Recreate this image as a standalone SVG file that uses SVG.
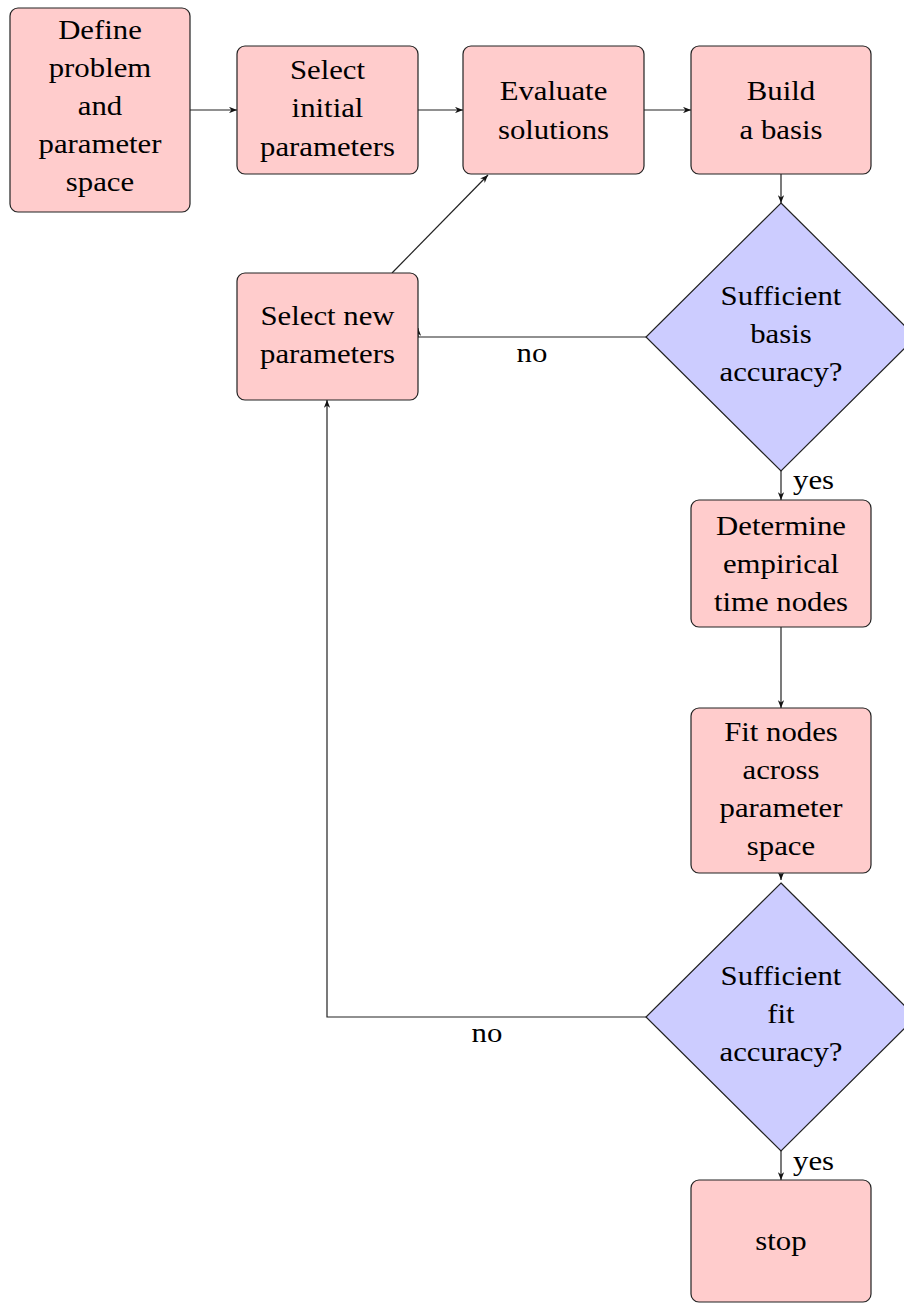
<svg xmlns="http://www.w3.org/2000/svg" width="904" height="1304" viewBox="0 0 904 1304">
<style>
.box{fill:#ffcccc;stroke:#222;stroke-width:1.2}
.dia{fill:#ccccff;stroke:#222;stroke-width:1.2}
text{font-family:'Liberation Serif','Times New Roman',Times,'DejaVu Serif',serif;font-size:27px;fill:#000}
.t{text-anchor:middle}
.e{fill:none;stroke:#222;stroke-width:1.2}
</style>
<defs>
<marker id="ah" viewBox="0 0 10 8" refX="10" refY="4" markerWidth="8" markerHeight="6.4" markerUnits="userSpaceOnUse" orient="auto">
<path d="M0,0 L10,4 L0,8 L3,4 z" fill="#111"/>
</marker>
</defs>
<rect width="904" height="1304" fill="#fff"/>
<g id="connectors">
<path class="e" d="M190,110 H237" marker-end="url(#ah)"/>
<path class="e" d="M418,110 H463" marker-end="url(#ah)"/>
<path class="e" d="M644,110 H691" marker-end="url(#ah)"/>
<path class="e" d="M781,174 V203" marker-end="url(#ah)"/>
<path class="e" d="M646,337 H418 V328" marker-end="url(#ah)"/>
<path class="e" d="M392,273 L488,175" marker-end="url(#ah)"/>
<path class="e" d="M781,471 V500" marker-end="url(#ah)"/>
<path class="e" d="M781,627 V708" marker-end="url(#ah)"/>
<path class="e" d="M781,873 V880" marker-end="url(#ah)"/>
<path class="e" d="M646,1017 H327 V400" marker-end="url(#ah)"/>
<path class="e" d="M781,1151 V1180" marker-end="url(#ah)"/>
<text class="t" transform="translate(532 0) scale(1.14 1)" x="0" y="362">no</text>
<text class="t" transform="translate(487 0) scale(1.14 1)" x="0" y="1042">no</text>
<text transform="translate(793 0) scale(1.14 1)" x="0" y="489">yes</text>
<text transform="translate(793 0) scale(1.14 1)" x="0" y="1170">yes</text>
</g>
<g id="n-define">
<rect class="box" x="10" y="8" width="180" height="204" rx="8"/>
<text class="t" transform="translate(100 0) scale(1.14 1)"><tspan x="0" y="39">Define</tspan><tspan x="0" y="77">problem</tspan><tspan x="0" y="115">and</tspan><tspan x="0" y="153">parameter</tspan><tspan x="0" y="191">space</tspan></text>
</g>
<g id="n-select-initial">
<rect class="box" x="237" y="46" width="181" height="128" rx="8"/>
<text class="t" transform="translate(327.5 0) scale(1.14 1)"><tspan x="0" y="79">Select</tspan><tspan x="0" y="117">initial</tspan><tspan x="0" y="156">parameters</tspan></text>
</g>
<g id="n-evaluate">
<rect class="box" x="463" y="46" width="181" height="128" rx="8"/>
<text class="t" transform="translate(553.5 0) scale(1.14 1)"><tspan x="0" y="100">Evaluate</tspan><tspan x="0" y="139">solutions</tspan></text>
</g>
<g id="n-build">
<rect class="box" x="691" y="46" width="180" height="128" rx="8"/>
<text class="t" transform="translate(781 0) scale(1.14 1)"><tspan x="0" y="100">Build</tspan><tspan x="0" y="139">a basis</tspan></text>
</g>
<g id="n-basis-accuracy">
<polygon class="dia" points="781,203 916,337 781,471 646,337"/>
<text class="t" transform="translate(781 0) scale(1.14 1)"><tspan x="0" y="305">Sufficient</tspan><tspan x="0" y="343">basis</tspan><tspan x="0" y="381">accuracy?</tspan></text>
</g>
<g id="n-select-new">
<rect class="box" x="237" y="273" width="181" height="127" rx="8"/>
<text class="t" transform="translate(327.5 0) scale(1.14 1)"><tspan x="0" y="325">Select new</tspan><tspan x="0" y="363">parameters</tspan></text>
</g>
<g id="n-determine">
<rect class="box" x="691" y="500" width="180" height="127" rx="8"/>
<text class="t" transform="translate(781 0) scale(1.14 1)"><tspan x="0" y="535">Determine</tspan><tspan x="0" y="573">empirical</tspan><tspan x="0" y="611">time nodes</tspan></text>
</g>
<g id="n-fit">
<rect class="box" x="691" y="708" width="180" height="165" rx="8"/>
<text class="t" transform="translate(781 0) scale(1.14 1)"><tspan x="0" y="741">Fit nodes</tspan><tspan x="0" y="779">across</tspan><tspan x="0" y="817">parameter</tspan><tspan x="0" y="855">space</tspan></text>
</g>
<g id="n-fit-accuracy">
<polygon class="dia" points="781,883 916,1017 781,1151 646,1017"/>
<text class="t" transform="translate(781 0) scale(1.14 1)"><tspan x="0" y="985">Sufficient</tspan><tspan x="0" y="1023">fit</tspan><tspan x="0" y="1061">accuracy?</tspan></text>
</g>
<g id="n-stop">
<rect class="box" x="691" y="1180" width="180" height="122" rx="8"/>
<text class="t" transform="translate(781 0) scale(1.14 1)" x="0" y="1250">stop</text>
</g>
</svg>
